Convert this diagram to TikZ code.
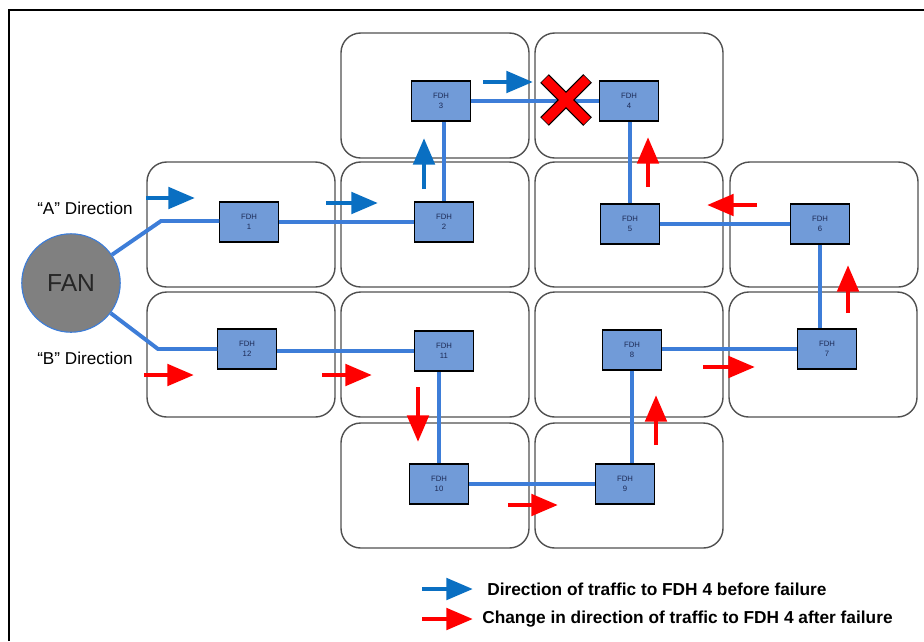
\documentclass[tikz,border=0pt]{standalone}
\usepackage{fontspec}
\setmainfont{Liberation Sans}
\usetikzlibrary{positioning, arrows.meta}

\definecolor{cellgray}{HTML}{505050}
\definecolor{linkblue}{HTML}{3D7DD8}
\definecolor{fdhblue}{HTML}{719BD8}
\definecolor{fdhtext}{HTML}{1C2A55}
\definecolor{beforeblue}{HTML}{0A6FC2}
\definecolor{fangray}{HTML}{808080}

\begin{document}
\begin{tikzpicture}[
                x=0.025cm, y=-0.025cm,
                cell/.style={draw=cellgray, line width=1pt, rounded corners=14pt},
                fdh/.style={
                  draw=black, fill=fdhblue, line width=0.8pt,
                  minimum width=41.5pt, minimum height=28.5pt, inner sep=0pt,
                  align=center, text=fdhtext, font=\fontsize{5.5}{7.5}\selectfont
                },
                link/.style={draw=linkblue, line width=2.8pt},
                beforearrow/.style={draw=beforeblue, line width=3.5pt, -{Triangle[length=19pt, width=15pt]}},
                afterarrow/.style={draw=red, line width=3.5pt, -{Triangle[length=19pt, width=15pt]}},
                label/.style={anchor=west, inner sep=0pt, font=\fontsize{12.2}{14}\selectfont},
                legend/.style={anchor=west, inner sep=0pt, font=\bfseries\fontsize{12.3}{14}\selectfont}
              ]

              \useasboundingbox (0,0) rectangle (924,641);
              \draw[line width=1.6pt] (9,641) -- (9,10) -- (924,10);

              % service areas
              \foreach \xa/\ya in {341/33, 535/33, 147/162, 341/162, 535/162, 730/162,
                                   147/292, 341/292, 535/292, 729/292, 341/423, 535/423}
                \draw[cell] (\xa,\ya) rectangle ++(188,125);

              % hub and cabinets
              \node (fan) [circle, draw=linkblue, line width=0.8pt, fill=fangray, minimum size=70pt,
                           inner sep=0pt, text=black!85, font=\fontsize{17.5}{20}\selectfont] at (71,283) {FAN};

              \node (n1)  [fdh] at (249,222) {FDH\\1};
              \node (n2)  [fdh] at (444,222) {FDH\\2};
              \node (n3)  [fdh] at (441,101) {FDH\\3};
              \node (n4)  [fdh] at (629,101) {FDH\\4};
              \node (n5)  [fdh] at (630,224) {FDH\\5};
              \node (n6)  [fdh] at (820,224) {FDH\\6};
              \node (n7)  [fdh] at (827,349) {FDH\\7};
              \node (n8)  [fdh] at (632,350) {FDH\\8};
              \node (n9)  [fdh] at (625,484) {FDH\\9};
              \node (n10) [fdh] at (439,484) {FDH\\10};
              \node (n11) [fdh] at (444,351) {FDH\\11};
              \node (n12) [fdh] at (247,349) {FDH\\12};

              \coordinate (bendA) at (161,221);
              \coordinate (bendB) at (158,349);

              % fibre ring
              \draw[link] (fan) -- (bendA) -- (bendA -| n1.west);
              \draw[link] (n1.east) -- (n1.east -| n2.west);
              \draw[link] (n2.north) -- (n2.north |- n3.south);
              \draw[link] (n3.east) -- (n3.east -| n4.west);
              \draw[link] (n5.north) -- (n5.north |- n4.south);
              \draw[link] (n5.east) -- (n5.east -| n6.west);
              \draw[link] (n6.south) -- (n6.south |- n7.north);
              \draw[link] (n7.west) -- (n7.west -| n8.east);
              \draw[link] (n8.south) -- (n8.south |- n9.north);
              \draw[link] (n9.west) -- (n9.west -| n10.east);
              \draw[link] (n10.north) -- (n10.north |- n11.south);
              \draw[link] (n11.west) -- (n11.west -| n12.east);
              \draw[link] (fan) -- (bendB) -- (bendB -| n12.west);

              % failure mark
              \coordinate (fail) at (566,100);
              \draw[black, line width=8.6pt] ([shift={(-21.5,-21.5)}]fail) -- ([shift={(21.5,21.5)}]fail)
                                             ([shift={(-21.5,21.5)}]fail) -- ([shift={(21.5,-21.5)}]fail);
              \draw[red, line width=7pt] ([shift={(-21,-21)}]fail) -- ([shift={(21,21)}]fail)
                                         ([shift={(-21,21)}]fail) -- ([shift={(21,-21)}]fail);

              % traffic before failure
              \draw[beforearrow] (146,198) -- (195,198);
              \draw[beforearrow] (326,203) -- (378,203);
              \draw[beforearrow] (424,189) -- (424,138);
              \draw[beforearrow] (483,82) -- (533,82);

              % traffic after failure
              \draw[afterarrow] (144,375) -- (194,375);
              \draw[afterarrow] (322,375) -- (372,375);
              \draw[afterarrow] (418,387) -- (418,442);
              \draw[afterarrow] (508,505) -- (558,505);
              \draw[afterarrow] (656,445) -- (656,395);
              \draw[afterarrow] (703,367) -- (755,367);
              \draw[afterarrow] (848,313) -- (848,265);
              \draw[afterarrow] (757,205) -- (707,205);
              \draw[afterarrow] (648,187) -- (648,137);

              \node (dirA) [label] at (37,208) {“A” Direction};
              \node (dirB) [label] at (37,358) {“B” Direction};

              % legend
              \node (keyBefore) [legend] at (487,589) {Direction of traffic to FDH 4 before failure};
              \node (keyAfter)  [legend] at (482,619) {Change in direction of traffic to FDH 4 after failure};
              \draw[beforearrow] (422,589) -- (473,589);
              \draw[afterarrow] (422,619) -- (473,619);

            \end{tikzpicture}
\end{document}
